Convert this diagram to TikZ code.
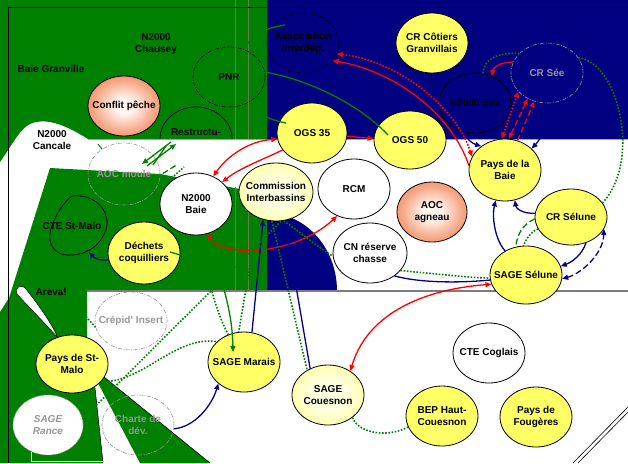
\documentclass[tikz,border=0pt]{standalone}
\usepackage{fontspec}
\setmainfont{Liberation Sans}
\usetikzlibrary{shapes.geometric,arrows.meta}

\definecolor{bggreen}{RGB}{0,128,0}
\definecolor{bgnavy}{RGB}{0,0,128}
\definecolor{bubyellow}{RGB}{255,255,102}
\definecolor{paleyellow}{RGB}{255,255,226}
\definecolor{salmon}{RGB}{236,112,72}
\definecolor{salmonmid}{RGB}{246,165,130}
\definecolor{salmonin}{RGB}{255,246,240}
\definecolor{ghost}{RGB}{150,150,150}
\definecolor{linkred}{RGB}{255,0,0}
\definecolor{linknavy}{RGB}{0,0,140}
\definecolor{linkgreen}{RGB}{0,128,0}
\definecolor{seam}{RGB}{125,125,125}
\definecolor{faint}{RGB}{105,125,70}

\pgfdeclareradialshading{salmonball}{\pgfpoint{0bp}{0bp}}{color(0bp)=(salmonin); color(6bp)=(salmonin); color(22bp)=(salmonmid); color(38bp)=(salmon); color(50bp)=(salmon)}
\pgfdeclareradialshading{yellowball}{\pgfpoint{0bp}{0bp}}{color(0bp)=(paleyellow); color(12bp)=(paleyellow); color(44bp)=(bubyellow); color(50bp)=(bubyellow)}

\newcommand\bublbl{\fontsize{10}{11.5}\selectfont\bfseries}

\tikzset{
  bubble/.style={ellipse, draw=black, line width=0.8pt, minimum width=72pt,
    minimum height=60pt, inner sep=0pt},
  yellowbub/.style={bubble, fill=bubyellow},
  whitebub/.style={bubble, fill=white},
  salmonbub/.style={bubble, shade, shading=salmonball},
  glowbub/.style={bubble, shade, shading=yellowball},
  ghostbub/.style={bubble, draw=ghost, line width=0.6pt,
    dash pattern=on 4pt off 1.5pt on 0.8pt off 1.5pt},
  darkbub/.style={bubble, line width=0.6pt,
    dash pattern=on 4pt off 1.5pt on 0.8pt off 1.5pt},
  lbltxt/.style={font=\bublbl, align=center, inner sep=0pt},
  greytxt/.style={lbltxt, text=ghost},
  redlink/.style={draw=linkred, line width=1.3pt},
  navylink/.style={draw=linknavy, line width=1.3pt},
  greenlink/.style={draw=linkgreen, line width=1.3pt},
  dotlink/.style={line width=1.6pt, dash pattern=on 1.6pt off 1.6pt},
  dashlink/.style={dash pattern=on 6pt off 3pt},
  >={Triangle[length=6pt,width=5pt]},
}

\begin{document}
\begin{tikzpicture}[x=1pt,y=-1pt]
\useasboundingbox (0,0) rectangle (628,463);
\clip (0,0) rectangle (628,463);

% ---------- map background ----------
\fill[white] (0,0) rectangle (628,463);
% northern land with the Cancale cove cut into it
\fill[bggreen] (0,0) -- (267,0) -- (267,139) -- (88,139)
  .. controls (70,128) and (48,116) .. (30,124)
  .. controls (20,129) and (14,142) .. (0,162) -- cycle;
\fill[bgnavy] (267,0) rectangle (628,139);
% central and south-western land
\fill[bggreen] (50,168) -- (160,174) -- (240,189) -- (267,193) -- (267,291)
  -- (87,291) -- (87,350) -- (95,388) -- (103,463) -- (0,463) -- (0,312)
  -- (9,298) -- cycle;
% navy lobe under the commission
\fill[bgnavy] (267,291) -- (267,213) .. controls (305.7,213) and (337,247.9) .. (337,291) -- cycle;
% wedge south of Saint-Malo
\fill[bggreen] (98,383) -- (140,463) -- (210,463) -- (104,377) -- cycle;
\draw[black, line width=0.6pt] (104,377) -- (210,463);
\draw[black, line width=0.6pt] (95,388) -- (103,463);
% narrow white spit near Areval
\filldraw[fill=white, draw=black, line width=0.5pt] (58,338)
  .. controls (42,320) and (24,302) .. (17,294)
  .. controls (14,288) and (21,283) .. (26,289)
  .. controls (36,302) and (50,320) .. (58,338) -- cycle;
% seams and frame
\draw[seam!70, line width=0.8pt] (88,139.5) -- (628,139.5);
\draw[seam, line width=1.3pt] (87,291) -- (628,291);
\draw[faint, line width=0.4pt] (235,0) -- (235,139) (248,0) -- (248,139)
  (235,187) -- (235,291) (248,190) -- (248,291);
\draw[black, line width=0.8pt] (8,463) -- (8,7) -- (628,7);
\draw[white, line width=0.8pt] (31,448) -- (31,461) -- (103,461);
\draw[black, line width=0.6pt] (573,463) -- (628,407) (578,463) -- (628,412);

% ---------- area names ----------
\node[lbltxt] (baiegr) at (51,69) {Baie Granville};
\node[lbltxt] (chausey) at (156,44) {N2000\\Chausey};
\node[lbltxt] (cancale) at (52,140) {N2000\\Cancale};
\node[lbltxt] (areval) at (51,292) {Areval};

% Restructuring dome and CTE drop
\draw[black, line width=0.8pt] (160,139) .. controls (160,121.3) and (176.1,107) .. (196,107)
  .. controls (215.9,107) and (232,121.3) .. (232,139);
\node[lbltxt] (restr) at (196,132) {Restructu-};
\draw[black, line width=0.8pt] (72,196) .. controls (60,205) and (48,228) .. (50,240)
  .. controls (52,252) and (62,256) .. (72,255)
  .. controls (90,254) and (104,242) .. (107,225)
  .. controls (108,205) and (90,194) .. (72,196);
\node[lbltxt] (ctestm) at (72,226) {CTE St-Malo};
\coordinate (ctetip) at (89,252);

% ---------- actors ----------
\node[darkbub, label={[lbltxt]center:PNR}] (pnr) at (229,77) {};
\node[darkbub, label={[lbltxt]center:{Association\\Interd\'ep.}}] (assoc) at (303,43) {};
\node[salmonbub, label={[lbltxt]center:{Conflit p\^eche}}] (conflit) at (124,106) {};
\node[yellowbub, label={[lbltxt]center:{CR C\^otiers\\Granvillais}}] (crcot) at (432,43) {};
\node[bubble, fill=bgnavy, label={[lbltxt]center:{N2000 S\'ee}}] (n2see) at (475,103) {};
\node[ghostbub, label={[greytxt]center:{CR S\'ee}}] (crsee) at (547,73) {};
\node[yellowbub, minimum width=70pt, label={[lbltxt]center:{OGS 35}}] (ogs35) at (312,133) {};
\node[yellowbub, minimum height=58pt, label={[lbltxt]center:{OGS 50}}] (ogs50) at (410,140) {};
\node[yellowbub, minimum height=62pt, label={[lbltxt]center:{Pays de la\\Baie}}] (pdb) at (505,170) {};
\node[yellowbub, minimum height=56pt, label={[lbltxt]center:{CR S\'elune}}] (crsel) at (571,217) {};
\node[yellowbub, minimum height=58pt, label={[lbltxt]center:{SAGE S\'elune}}] (sagesel) at (526,275) {};
\node[whitebub, label={[lbltxt]center:RCM}] (rcm) at (354,189) {};
\node[salmonbub, minimum width=70pt, label={[lbltxt]center:{AOC\\agneau}}] (aocag) at (432,212) {};
\node[whitebub, minimum width=74pt, label={[lbltxt]center:{CN r\'eserve\\chasse}}] (cnres) at (370,253) {};
\node[glowbub, minimum width=74pt, minimum height=58pt, label={[lbltxt]center:{Commission\\Interbassins}}] (comm) at (276,192) {};
\node[whitebub, minimum height=62pt, label={[lbltxt]center:{N2000\\Baie}}] (n2baie) at (196,204) {};
\node[ghostbub, minimum height=62pt, label={[greytxt]center:{AOC moule}}] (aocm) at (124,174) {};
\node[yellowbub, minimum height=62pt, label={[lbltxt]center:{D\'echets\\coquilliers}}] (dech) at (144,253) {};
\node[ghostbub, minimum height=58pt, label={[greytxt]center:{Cr\'epid’ Insert}}] (crep) at (131,321) {};
\node[yellowbub, minimum height=58pt, label={[lbltxt]center:{Pays de St-\\Malo}}] (pstm) at (72,364) {};
\node[whitebub, draw=ghost, line width=0.6pt, dash pattern=on 4pt off 1.5pt on 0.8pt off 1.5pt,
  minimum width=70pt, label={[greytxt, font=\bublbl\itshape]center:{SAGE\\Rance}}] (rance) at (48,425) {};
\node[ghostbub, label={[greytxt]center:{Charte de\\d\'ev.}}] (charte) at (138,425) {};
\node[yellowbub, label={[lbltxt]center:{SAGE Marais}}] (smar) at (244,362) {};
\node[glowbub, label={[lbltxt]center:{SAGE\\Couesnon}}] (scoue) at (328,395) {};
\node[yellowbub, label={[lbltxt]center:{BEP Haut-\\Couesnon}}] (bep) at (442,416) {};
\node[whitebub, label={[lbltxt]center:{CTE Coglais}}] (ctecog) at (489,353) {};
\node[yellowbub, label={[lbltxt]center:{Pays de\\Foug\`eres}}] (pfoug) at (536,417) {};

% ---------- red links ----------
\draw[redlink,<->] (n2baie.58) .. controls (228,155) and (250,141) .. (ogs35.190);
\draw[redlink,->] (ogs35.210) .. controls (262,160) and (240,168) .. (n2baie.40);
\draw[redlink,<->] (n2baie.290) .. controls (225,258) and (295,255) .. (rcm.238);
\draw[redlink,<-] (assoc.329) .. controls (390,70) and (450,110) .. (pdb.173);
\draw[redlink,dotlink,<->] (assoc.342) .. controls (395,60) and (455,105) .. (pdb.158);
\draw[redlink,->] (ogs35.355) -- (ogs50.178);
\draw[redlink,->] (crsee.162) .. controls (500,62) and (493,68) .. (n2see.58);
\draw[redlink,dotlink,<->] (pdb.96) -- (crsee.213);
\draw[redlink,dashlink,<->] (pdb.83) -- (crsee.233);
\draw[redlink,dashlink,->] (pdb.67) -- (crsee.246);
\draw[redlink,<->] (sagesel.195) .. controls (440,288) and (370,305) .. (scoue.47);

% ---------- navy links ----------
\draw[navylink,->] (dech.191) .. controls (100,261) and (94,258) .. (ctetip);
\draw[navylink,->] (sagesel.131) .. controls (494,238) and (492,215) .. (pdb.253);
\draw[navylink,->] (crsel.174) .. controls (522,214) and (516,208) .. (pdb.288);
\draw[navylink,->] (crsel.300) .. controls (582,255) and (572,262) .. (sagesel.14);
\draw[navylink,dashlink,<->] (sagesel.354) .. controls (580,274) and (603,255) .. (crsel.340);
\draw[navylink] (cnres.317) .. controls (420,283) and (460,283) .. (sagesel.188);
\draw[navylink,->] (n2see.250) .. controls (466,140) and (474,144) .. (pdb.135);
\draw[navylink,->] (crsee.280) .. controls (548,125) and (540,140) .. (pdb.39);
\draw[navylink,->] (smar.75) -- (comm.245);
\draw[navylink] (scoue.124) -- (comm.287);
\draw[navylink,->] (charte.354) .. controls (195,427) and (212,405) .. (smar.220);

% ---------- green links ----------
\coordinate (assocstub) at (285,25);
\coordinate (ogsstub) at (286,123);
\coordinate (ogs50tip) at (388,135);
\draw[greenlink] (pnr.60) .. controls (250,35) and (262,29) .. (assocstub);
\draw[greenlink] (pnr.315) .. controls (255,112) and (265,119) .. (ogsstub);
\draw[greenlink] (pnr.8) .. controls (310,80) and (360,105) .. (ogs50tip);

\coordinate (am1) at (147,166); \coordinate (am2) at (176,144);
\coordinate (am3) at (171,142); \coordinate (am4) at (142,164);
\coordinate (am5) at (153,165); \coordinate (am6) at (166,146);
\draw[greenlink,->] (am1) -- (am2);
\draw[greenlink,->] (am3) -- (am4);
\draw[greenlink] (am5) -- (am6);
\coordinate (cs1) at (140,188); \coordinate (cs2) at (178,164);
\coordinate (cs3) at (150,197); \coordinate (cs4) at (184,167);
\draw[greenlink,dashlink] (cs1) -- (cs2);
\draw[greenlink,dotlink] (cs3) -- (cs4);
\coordinate (tk1) at (98,144); \coordinate (tk2) at (102,149);
\draw[greenlink,line width=1pt] (tk1) -- (tk2);
\coordinate (dq1) at (215,265); \coordinate (dq2) at (170,252);
\draw[greenlink] (dq1) -- (dq2);

\coordinate (smarin) at (233,352);
\draw[greenlink,->] (n2baie.300) .. controls (216,275) and (232,300) .. (smarin);
\draw[greenlink,dotlink] (n2baie.280) .. controls (205,270) and (215,310) .. (smar.120);
\draw[greenlink,dotlink] (comm.235) -- (smar.100);
\draw[greenlink,dotlink] (comm.262) -- (scoue.130);
\draw[greenlink,dotlink] (comm.285) .. controls (300,232) and (315,245) .. (cnres.185);
\draw[greenlink,dotlink] (rance.10) -- (comm.280);
\draw[greenlink,dotlink] (pstm.330) .. controls (140,385) and (175,335) .. (smar.143);
\coordinate (crepstub) at (60,288);
\draw[greenlink,dotlink] (crep.190) -- (crepstub);
\draw[greenlink,dotlink] (cnres.330) .. controls (430,273) and (460,277) .. (sagesel.185);
\draw[greenlink,dotlink] (scoue.317) .. controls (360,435) and (390,437) .. (bep.198);
\draw[greenlink,dotlink] (n2see.75) .. controls (484,58) and (500,52) .. (crsee.145);
\draw[greenlink,dotlink] (crsee.26) .. controls (618,62) and (642,160) .. (crsel.24);
\draw[greenlink,dashlink] (crsel.183) .. controls (522,225) and (517,235) .. (sagesel.110);
\draw[greenlink,dotlink] (crsel.200) .. controls (530,232) and (527,238) .. (sagesel.95);
\end{tikzpicture}
\end{document}
